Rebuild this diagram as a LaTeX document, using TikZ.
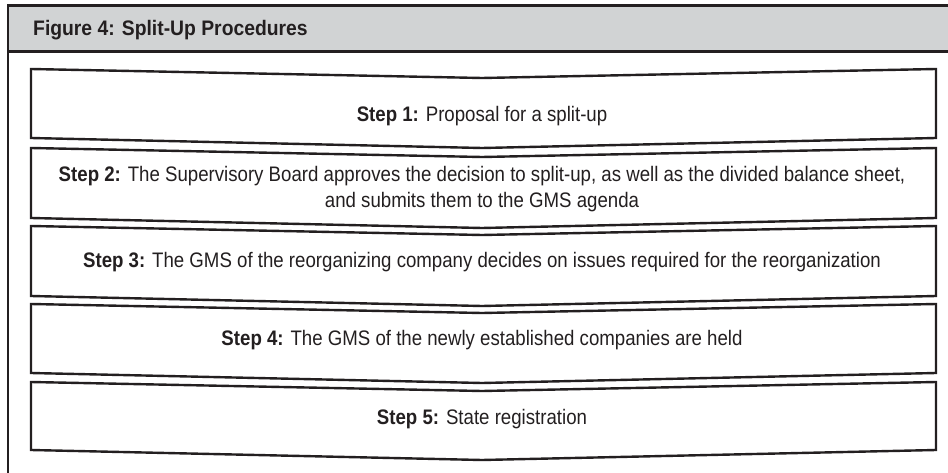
\documentclass[tikz,border=0pt]{standalone}
\usepackage{fontspec}
\setmainfont{Liberation Sans}[FakeStretch=0.888]
\newfontfamily\titlefont{Liberation Sans}[FakeStretch=0.92]
\definecolor{ink}{HTML}{231F20}
\definecolor{headgray}{HTML}{D1D3D4}
\tikzset{
  frameline/.style={draw=ink, line width=2.4pt},
  boxline/.style={draw=ink, line width=2.4pt, line join=miter},
  steptext/.style={anchor=base, inner sep=0pt, text=ink, font=\fontsize{21}{25}\selectfont},
  titletext/.style={anchor=base west, inner sep=0pt, text=ink, font=\titlefont\bfseries\fontsize{21}{25}\selectfont}
}
\newcommand\chevbox[2]{%
  \draw[boxline] (31,#1) -- (482,#1+9) -- (936,#1) -- (936,#2) -- (482,#2+10) -- (31,#2) -- cycle;}
\begin{document}
\begin{tikzpicture}[x=1pt,y=-1pt]
\useasboundingbox (0,0) rectangle (948,473);
\fill[white] (0,0) rectangle (948,473);
\fill[headgray] (8,5.5) rectangle (948,51.5);
\draw[frameline] (8,5.5) -- (948,5.5);
\draw[frameline] (8,51.5) -- (948,51.5);
\draw[frameline] (8,4.3) -- (8,473);
\node[titletext] (title) at (33,36) {Figure 4: Split-Up Procedures};
\chevbox{69}{138}
\chevbox{148}{218}
\chevbox{226}{296}
\chevbox{304}{373}
\chevbox{382}{450}
\node[steptext] (s1) at (482,122) {\textbf{Step 1:} Proposal for a split-up};
\node[steptext] (s2a) at (482,182) {\textbf{Step 2:} The Supervisory Board approves the decision to split-up, as well as the divided balance sheet,};
\node[steptext] (s2b) at (482,208) {and submits them to the GMS agenda};
\node[steptext] (s3) at (482,268) {\textbf{Step 3:} The GMS of the reorganizing company decides on issues required for the reorganization};
\node[steptext] (s4) at (482,345) {\textbf{Step 4:} The GMS of the newly established companies are held};
\node[steptext] (s5) at (482,424) {\textbf{Step 5:} State registration};
\end{tikzpicture}
\end{document}
